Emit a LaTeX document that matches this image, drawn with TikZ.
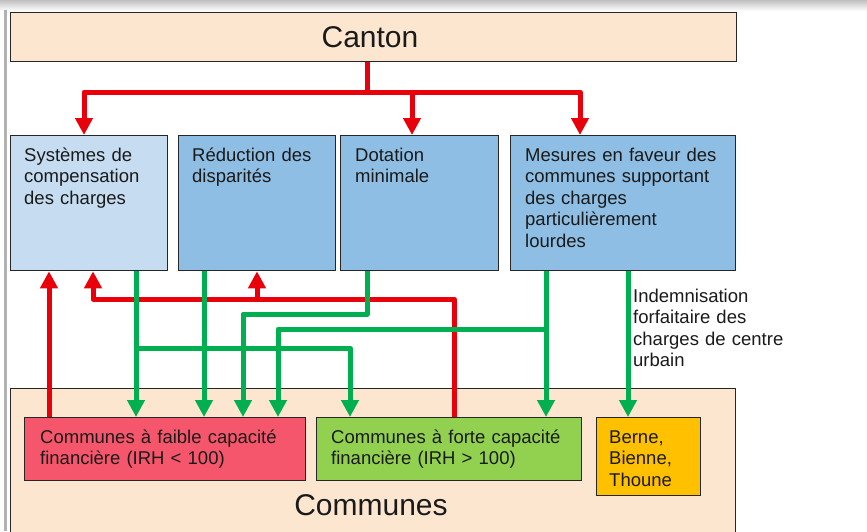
\documentclass[tikz,border=0pt]{standalone}
\usepackage{fontspec}
\setmainfont{Liberation Sans}
\usetikzlibrary{arrows.meta}
\definecolor{bisque}{HTML}{FCE6CF}
\definecolor{lightblue}{HTML}{C6DDF1}
\definecolor{midblue}{HTML}{8EBEE4}
\definecolor{redbox}{HTML}{F5566B}
\definecolor{greenbox}{HTML}{92D050}
\definecolor{orangebox}{HTML}{FFC000}
\definecolor{arrred}{HTML}{E8000B}
\definecolor{arrgreen}{HTML}{00B050}
\definecolor{txtcol}{HTML}{1A1A1A}
\begin{document}
\begin{tikzpicture}[x=1pt,y=-1pt,
  box/.style={draw=black!85, line width=1.3pt, anchor=north west, inner sep=0pt},
  txt/.style={anchor=base west, align=left, inner sep=0pt, text=txtcol, text width=240pt,
    font=\fontsize{18.5}{21.5}\selectfont},
  bigtxt/.style={anchor=base, inner sep=0pt, text=txtcol,
    font=\fontsize{30}{34}\selectfont},
  redl/.style={draw=arrred, line width=5pt, line join=round},
  greenl/.style={draw=arrgreen, line width=5pt, line join=round},
  arrowed/.style={-{Triangle[length=17pt,width=17pt]}}]
\useasboundingbox (0,0) rectangle (867,531);
\fill[white] (0,0) rectangle (867,531);
\shade[top color=black!25, bottom color=white] (0,0) rectangle (867,11);
\fill[black!30] (4,10) rectangle (7,531);

% main frames
\node[box, fill=bisque, minimum width=726pt, minimum height=49pt] (canton) at (10,12) {};
\node[bigtxt] (cantontxt) at (370,47) {Canton};
\node[box, fill=bisque, minimum width=725pt, minimum height=150pt] (communes) at (10,388) {};
\node[bigtxt] (communestxt) at (371,515) {Communes};

% upper boxes
\node[box, fill=lightblue, minimum width=157pt, minimum height=135pt] (b1) at (10,135) {};
\node[box, fill=midblue, minimum width=157pt, minimum height=135pt] (b2) at (178,135) {};
\node[box, fill=midblue, minimum width=158pt, minimum height=135pt] (b3) at (340,135) {};
\node[box, fill=midblue, minimum width=225pt, minimum height=135pt] (b4) at (510,135) {};
\node[txt] (t1) at (24,161) {Systèmes de\\compensation\\des charges};
\node[txt] (t2) at (192,161) {Réduction des\\disparités};
\node[txt] (t3) at (355,161) {Dotation\\minimale};
\node[txt] (t4) at (525,161) {Mesures en faveur des\\communes supportant\\des charges\\particulièrement\\lourdes};

% lower boxes
\node[box, fill=redbox, minimum width=281pt, minimum height=63pt] (rbox) at (24,417) {};
\node[box, fill=greenbox, minimum width=265pt, minimum height=63pt] (gbox) at (316,417) {};
\node[box, fill=orangebox, minimum width=104pt, minimum height=78pt] (obox) at (596,417) {};
\node[txt] (rt) at (40,443) {Communes à faible capacité\\financière (IRH < 100)};
\node[txt] (gt) at (331,443) {Communes à forte capacité\\financière (IRH > 100)};
\node[txt] (ot) at (609,443) {Berne,\\Bienne,\\Thoune};

% label
\node[txt] (lbl) at (633,302) {Indemnisation\\forfaitaire des\\charges de centre\\urbain};

% red connectors from Canton
\coordinate (jm) at (367,92);
\coordinate (jl) at (84,92);
\coordinate (j2) at (412,92);
\coordinate (jr) at (580,92);
\draw[redl] (canton.south -| jm) -- (jm);
\draw[redl,arrowed] (jm) -| (b1.north -| jl);
\draw[redl,arrowed] (jm) -| (b4.north -| jr);
\draw[redl,arrowed] (j2) -- (b3.north -| j2);

% red connectors up
\coordinate (xa) at (49,0);
\coordinate (rr) at (454,299);
\coordinate (rl) at (93,299);
\coordinate (rm) at (257,299);
\draw[redl,arrowed] (rbox.north -| xa) -- (b1.south -| xa);
\draw[redl,arrowed] (gbox.north -| rr) -- (rr) -- (rl) -- (b1.south -| rl);
\draw[redl,arrowed] (rm) -- (b2.south -| rm);

% green connectors
\coordinate (g1) at (136,348);
\coordinate (g1e) at (350,348);
\coordinate (g2) at (204,0);
\coordinate (g3a) at (367,314);
\coordinate (g3b) at (243,314);
\coordinate (g4) at (546,329);
\coordinate (g4k) at (278,329);
\coordinate (g5) at (628,0);
\draw[greenl,arrowed] (b1.south -| g1) -- (rbox.north -| g1);
\draw[greenl,arrowed] (g1) -- (g1e) -- (gbox.north -| g1e);
\draw[greenl,arrowed] (b2.south -| g2) -- (rbox.north -| g2);
\draw[greenl,arrowed] (b3.south -| g3a) -- (g3a) -- (g3b) -- (rbox.north -| g3b);
\draw[greenl,arrowed] (b4.south -| g4) -- (gbox.north -| g4);
\draw[greenl,arrowed] (g4) -- (g4k) -- (rbox.north -| g4k);
\draw[greenl,arrowed] (b4.south -| g5) -- (obox.north -| g5);
\end{tikzpicture}
\end{document}
